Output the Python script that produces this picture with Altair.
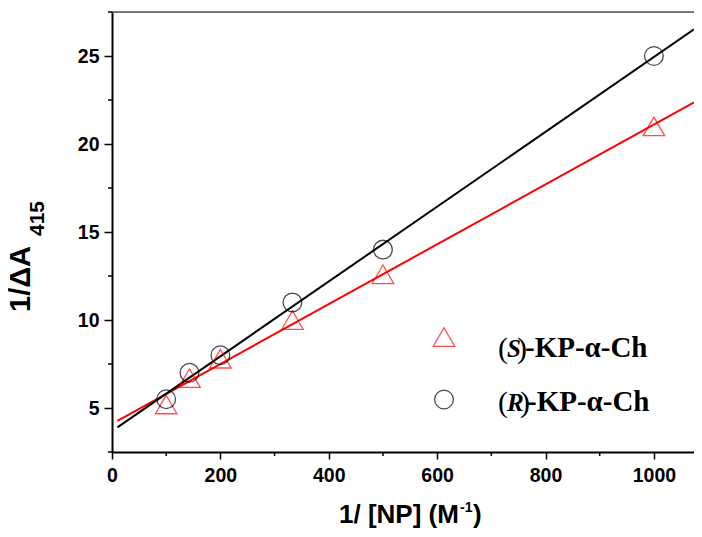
import altair as alt
import pandas as pd

# ---- data ----
x_vals = [100, 143, 200, 333, 500, 1000]
s_vals = [5.2, 6.7, 7.8, 10.0, 12.6, 21.0]
r_vals = [5.5, 7.0, 8.0, 11.0, 14.0, 25.0]
series_names = ["S", "R"]
x_ticks = [0, 200, 400, 600, 800, 1000]
x_minor = [100, 300, 500, 700, 900]
y_ticks = [5, 10, 15, 20, 25]
y_minor = [2.5, 7.5, 12.5, 17.5, 22.5, 27.5]

df = pd.DataFrame({
    "x": x_vals + x_vals,
    "y": s_vals + r_vals,
    "series": ["S"] * len(x_vals) + ["R"] * len(x_vals),
})

W, H = 582, 440
XMAX = 1074
xscale = alt.Scale(domain=[0, XMAX], nice=False, zero=False)
yscale = alt.Scale(domain=[2.5, 27.5], nice=False, zero=False)
cscale = alt.Scale(domain=series_names, range=["#ff0000", "#000000"])
shscale = alt.Scale(domain=series_names, range=["triangle-up", "circle"])
szscale = alt.Scale(domain=series_names, range=[460, 350])

SANS = "Liberation Sans"
SERIF = "Liberation Serif"

xaxis = alt.Axis(values=x_ticks, title=None, grid=False, domainColor="black", format="d",
                 domainWidth=2, tickColor="black", tickWidth=1.5, tickSize=7,
                 labelFont=SANS, labelFontSize=19.5, labelFontWeight="bold",
                 labelColor="black", labelPadding=7, labelFlush=False)
yaxis = alt.Axis(values=y_ticks, title=None, grid=False, domainColor="black", format="d",
                 domainWidth=2, tickColor="black", tickWidth=1.5, tickSize=8,
                 labelFont=SANS, labelFontSize=19.5, labelFontWeight="bold",
                 labelColor="black", labelPadding=5, labelFlush=False)

lines = alt.Chart(df).transform_regression(
    "x", "y", groupby=["series"], extent=[10, XMAX]
).mark_line(strokeWidth=2, clip=True).encode(
    x=alt.X("x:Q", scale=xscale, axis=xaxis),
    y=alt.Y("y:Q", scale=yscale, axis=yaxis),
    color=alt.Color("series:N", scale=cscale, legend=None),
)

points = alt.Chart(df).mark_point(filled=False, strokeWidth=1.3).encode(
    x=alt.X("x:Q", scale=xscale, axis=xaxis),
    y=alt.Y("y:Q", scale=yscale, axis=yaxis),
    color=alt.Color("series:N", scale=cscale, legend=None),
    shape=alt.Shape("series:N", scale=shscale, legend=None),
    size=alt.Size("series:N", scale=szscale, legend=None),
)

xminor = alt.Chart(pd.DataFrame({"x": x_minor})).mark_rule(color="black", strokeWidth=1.5).encode(
    x=alt.X("x:Q", scale=xscale, axis=xaxis), y=alt.value(H), y2=alt.value(H + 4))
yminor = alt.Chart(pd.DataFrame({"y": y_minor})).mark_rule(color="black", strokeWidth=1.5).encode(
    y=alt.Y("y:Q", scale=yscale, axis=yaxis), x=alt.value(-4), x2=alt.value(0))
topline = alt.Chart(pd.DataFrame({"v": [0]})).mark_rule(color="black", strokeWidth=1).encode(
    x=alt.value(0), x2=alt.value(W), y=alt.value(0))


def txt(t, x, y, font, size, weight="bold", style="normal", angle=0, color="black"):
    return alt.Chart(pd.DataFrame({"t": [t]})).mark_text(
        font=font, fontSize=size, fontWeight=weight, fontStyle=style, angle=angle,
        align="left", baseline="alphabetic", color=color,
    ).encode(text="t:N", x=alt.value(x), y=alt.value(y))


def sym(shape, size, color, x, y):
    return alt.Chart(pd.DataFrame({"v": [0]})).mark_point(
        filled=False, strokeWidth=1.3, shape=shape, size=size, color=color
    ).encode(x=alt.value(x), y=alt.value(y))


# axis titles with sub/superscripts
titles = [
    txt("1/ [NP] (M", 227, 511, SANS, 26),
    txt("-1", 348, 500, SANS, 14),
    txt(")", 361, 511, SANS, 26),
    txt("1/ΔA", -82, 300, SANS, 29, angle=270),
    txt("415", -68.5, 224, SANS, 21, angle=270),
]

# legend
legend = [
    sym("triangle-up", 460, "#ff0000", 332, 325),
    sym("circle", 350, "#000000", 332, 387.5),
    txt("(", 386, 346, SERIF, 30, weight="normal"),
    txt("S", 395, 344.7, SERIF, 25, style="italic"),
    txt(")", 405, 346, SERIF, 30, weight="normal"),
    txt("-KP-α-Ch", 413, 344.7, SERIF, 29),
    txt("(", 386, 400, SERIF, 30, weight="normal"),
    txt("R", 395, 398.5, SERIF, 25, style="italic"),
    txt(")", 408, 400, SERIF, 30, weight="normal"),
    txt("-KP-α-Ch", 415, 398.5, SERIF, 29),
]

chart = alt.layer(lines, points, xminor, yminor, topline, *legend, *titles).properties(
    width=W, height=H,
    autosize=alt.AutoSizeParams(type="none"),
    padding={"left": 104, "top": 4, "right": 0, "bottom": 77},
).configure_view(stroke=None).configure(background="white")

chart.save("out.html", embed_options={"renderer": "svg", "actions": False})
